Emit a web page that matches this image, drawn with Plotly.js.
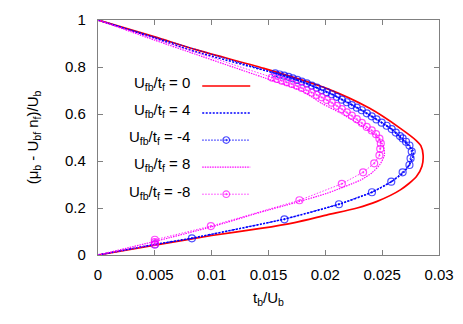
<!DOCTYPE html>
<html>
<head>
<meta charset="utf-8">
<script src="https://cdn.plot.ly/plotly-3.0.1.min.js"></script>
<style>
  html, body { margin: 0; padding: 0; background: #fff; }
  #chart { width: 463px; height: 324px; }
</style>
</head>
<body>
<div id="chart"></div>
<script>
// values: x = t_b/U_b, y = (mu_b - U_bf n_f)/U_b

// U_fb/t_f = 0 (solid red)
const t0  = [0, 0.005, 0.01, 0.0143, 0.0173, 0.0201, 0.0228, 0.0245, 0.0266, 0.0280, 0.0285, 0.0286, 0.0284, 0.0280, 0.0266, 0.0239, 0.0201, 0.0146, 0.0086, 0.005, 0];
const mu0 = [0, 0.042, 0.083, 0.113, 0.138, 0.170, 0.200, 0.227, 0.277, 0.333, 0.378, 0.426, 0.465, 0.487, 0.539, 0.624, 0.709, 0.794, 0.874, 0.928, 1];

// U_fb/t_f = 4 (dotted blue)
const t4  = [0, 0.005, 0.0083, 0.0164, 0.0212, 0.0241, 0.0258, 0.0269, 0.0274, 0.0277, 0.0277, 0.0272, 0.0258, 0.0232, 0.0206, 0.0179, 0.0156, 0.0086, 0.005, 0];
const mu4 = [0, 0.045, 0.072, 0.153, 0.216, 0.267, 0.312, 0.352, 0.385, 0.415, 0.445, 0.471, 0.536, 0.616, 0.684, 0.738, 0.773, 0.865, 0.923, 1];

// U_fb/t_f = -4 (blue circles)
const tm4  = [0, 0.005, 0.00826, 0.0164, 0.0212, 0.0241, 0.0258, 0.0268, 0.0274, 0.0275, 0.0276,
              0.0274, 0.0271, 0.0268, 0.02657, 0.0262, 0.02584, 0.0254, 0.02496, 0.0245, 0.02408,
              0.02365, 0.02321, 0.02277, 0.02233, 0.02189, 0.02145, 0.02101, 0.02057, 0.02013, 0.01969,
              0.01925, 0.01881, 0.01837, 0.01793, 0.01753, 0.01714, 0.01676, 0.01638, 0.01598, 0.01559, 0];
const mum4 = [0, 0.045, 0.071, 0.152, 0.216, 0.267, 0.312, 0.352, 0.383, 0.411, 0.440,
              0.466, 0.482, 0.496, 0.506, 0.521, 0.536, 0.550, 0.563, 0.577, 0.590,
              0.603, 0.616, 0.627, 0.638, 0.650, 0.661, 0.673, 0.684, 0.693, 0.702,
              0.712, 0.721, 0.730, 0.738, 0.745, 0.752, 0.758, 0.763, 0.768, 0.773, 1];

// U_fb/t_f = 8 (dotted magenta)
const t8  = [0, 0.005, 0.01, 0.0143, 0.0173, 0.0201, 0.0231, 0.0241, 0.0248, 0.0252, 0.0251, 0.0246, 0.0238, 0.0228, 0.0213, 0.0197, 0.0179, 0.0153, 0.0086, 0.005, 0];
const mu8 = [0, 0.058, 0.120, 0.182, 0.222, 0.262, 0.319, 0.350, 0.385, 0.425, 0.465, 0.500, 0.530, 0.562, 0.605, 0.645, 0.699, 0.743, 0.854, 0.914, 1];

// U_fb/t_f = -8 (magenta circles)
const tm8  = [0, 0.005, 0.005, 0.005, 0.00993, 0.01772, 0.02145, 0.02332, 0.0243, 0.02476, 0.02483, 0.02488,
              0.02476, 0.02446, 0.02408, 0.02364, 0.02321, 0.02277, 0.02233, 0.02189, 0.02145, 0.02101,
              0.02057, 0.02013, 0.01969, 0.01925, 0.01881, 0.01837, 0.01793, 0.01749, 0.01705, 0.01661,
              0.01617, 0.01573, 0.01529, 0];
const mum8 = [0, 0.045, 0.055, 0.065, 0.123, 0.233, 0.303, 0.352, 0.390, 0.424, 0.452, 0.475,
              0.495, 0.514, 0.530, 0.545, 0.562, 0.578, 0.593, 0.607, 0.621, 0.635,
              0.648, 0.660, 0.671, 0.681, 0.691, 0.701, 0.711, 0.720, 0.728, 0.735,
              0.742, 0.749, 0.755, 1];

const legendLabels = ['U<sub>fb</sub>/t<sub>f</sub> = 0', 'U<sub>fb</sub>/t<sub>f</sub> = 4',
                      'U<sub>fb</sub>/t<sub>f</sub> = -4', 'U<sub>fb</sub>/t<sub>f</sub> = 8',
                      'U<sub>fb</sub>/t<sub>f</sub> = -8'];
const xTicks = [0, 0.005, 0.01, 0.015, 0.02, 0.025, 0.03];
const yTicks = [0, 0.2, 0.4, 0.6, 0.8, 1];

const FONT = 'Liberation Sans, Arial, Helvetica, sans-serif';
const RED = '#ff0000', BLUE = '#0000ff', MAG = '#ff00ff';

// the end points on the axes carry no symbol
const sizesFor = (xs) => xs.map(v => (v === 0 ? 0 : 7));

const traces = [
    { x: t0, y: mu0, mode: 'lines', name: ' ',
      line: { color: RED, width: 1.7, shape: 'spline', smoothing: 0.7 } },
    { x: t4, y: mu4, mode: 'lines', name: ' ',
      line: { color: BLUE, width: 1.6, dash: '2px,1.5px', shape: 'spline', smoothing: 0.6 } },
    { x: tm4, y: mum4, mode: 'lines+markers', name: ' ',
      line: { color: BLUE, width: 1, dash: '1.5px,1.5px' },
      marker: { symbol: 'circle-open-dot', size: sizesFor(tm4), color: BLUE, line: { width: 1.2, color: BLUE } } },
    { x: t8, y: mu8, mode: 'lines', name: ' ',
      line: { color: MAG, width: 1.2, dash: '1.5px,1px', shape: 'spline', smoothing: 0.6 } },
    { x: tm8, y: mum8, mode: 'lines+markers', name: ' ',
      line: { color: MAG, width: 0.8, dash: '1.5px,1.5px' },
      marker: { symbol: 'circle-open-dot', size: sizesFor(tm8), color: MAG, line: { width: 1.2, color: MAG } } }
];

const legendY = [0.728, 0.613, 0.498, 0.383, 0.264];
const annotations = legendLabels.map((txt, i) => ({
    text: txt, xref: 'paper', yref: 'paper', x: 0.277, y: legendY[i],
    xanchor: 'right', yanchor: 'middle', showarrow: false,
    font: { family: FONT, size: 15, color: '#000' }
}));

const axisCommon = {
    showgrid: false, zeroline: false, showline: true, mirror: 'ticks',
    linecolor: '#808080', linewidth: 1.2,
    ticks: 'inside', ticklen: 5, tickcolor: '#808080', tickwidth: 1,
    tickfont: { family: FONT, size: 15, color: '#000' }
};

const layout = {
    width: 463, height: 324,
    margin: { l: 98, r: 24, t: 20, b: 69 },
    paper_bgcolor: '#fff', plot_bgcolor: '#fff',
    font: { family: FONT, size: 15, color: '#000' },
    xaxis: Object.assign({}, axisCommon, {
        range: [0, 0.03], tickvals: xTicks, ticktext: xTicks.map(String),
        ticklabelstandoff: 6,
        title: { text: 't<sub>b</sub>/U<sub>b</sub>', font: { family: FONT, size: 15 }, standoff: 10 }
    }),
    yaxis: Object.assign({}, axisCommon, {
        range: [0, 1], tickvals: yTicks, ticktext: yTicks.map(String),
        ticklabelstandoff: 8,
        title: { text: '(μ<sub>b</sub> - U<sub>bf</sub> n<sub>f</sub>)/U<sub>b</sub>', font: { family: FONT, size: 15 }, standoff: 22 }
    }),
    showlegend: true,
    legend: {
        x: 0.291, y: 0.798, xanchor: 'left', yanchor: 'top',
        bgcolor: 'rgba(0,0,0,0)', borderwidth: 0,
        font: { family: FONT, size: 18.5 }, itemwidth: 48, tracegroupgap: 0
    },
    annotations: annotations
};

Plotly.newPlot('chart', traces, layout, { displayModeBar: false, staticPlot: true });
</script>
</body>
</html>
